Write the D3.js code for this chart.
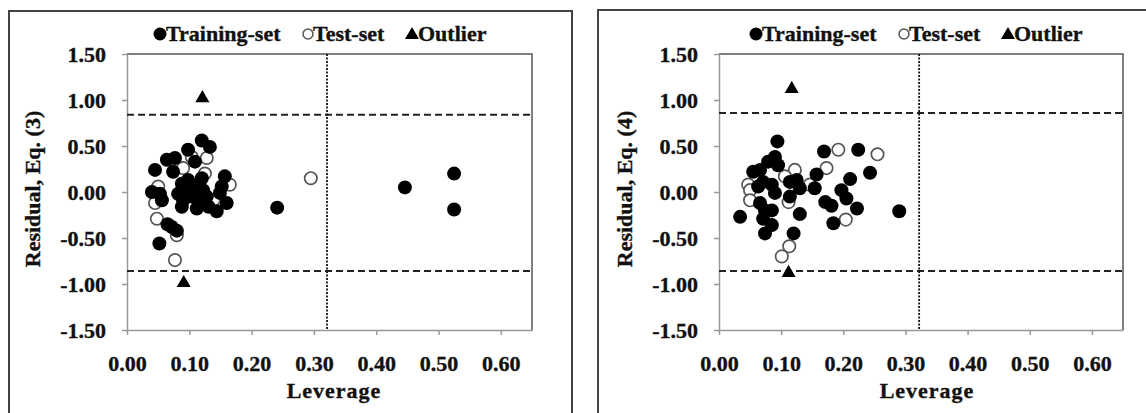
<!DOCTYPE html>
<html>
<head>
<meta charset="utf-8">
<script src="https://cdn.jsdelivr.net/npm/d3@7"></script>
<style>
body { margin: 0; background: #fff; }
svg text { font-family: "Liberation Serif", "Times New Roman", serif; font-weight: bold; fill: #111; stroke: #111; stroke-width: 0.35px; }
</style>
</head>
<body>
<div id="chart"></div>
<script>
// data: [leverage, residual]
const eq3Train = [
    [0.120, 0.56], [0.133, 0.49], [0.098, 0.46], [0.077, 0.37], [0.064, 0.35],
    [0.045, 0.24], [0.074, 0.22], [0.109, 0.33], [0.040, 0.00], [0.056, -0.09],
    [0.053, -0.02], [0.088, 0.09], [0.096, 0.02], [0.109, 0.06], [0.122, 0.02],
    [0.090, -0.09], [0.104, -0.05], [0.117, -0.09], [0.128, -0.05], [0.088, -0.16],
    [0.112, -0.18], [0.098, 0.13], [0.120, 0.15], [0.082, -0.02], [0.131, -0.16],
    [0.157, 0.17], [0.152, 0.06], [0.160, -0.12], [0.144, -0.21], [0.149, -0.01],
    [0.065, -0.35], [0.072, -0.38], [0.080, -0.42], [0.052, -0.56],
    [0.241, -0.17], [0.446, 0.05], [0.525, 0.20], [0.525, -0.19]
]
const eq3Test = [
    [0.050, 0.06], [0.048, -0.29], [0.080, -0.47], [0.077, -0.74], [0.128, 0.37],
    [0.125, 0.20], [0.165, 0.08], [0.104, 0.38], [0.045, -0.12], [0.139, -0.09],
    [0.090, 0.26], [0.295, 0.15]
]
const eq3Outlier = [[0.121, 1.02], [0.091, -0.99]]

const eq4Train = [
    [0.094, 0.55], [0.090, 0.38], [0.079, 0.33], [0.095, 0.29], [0.055, 0.22],
    [0.066, 0.24], [0.071, 0.11], [0.085, 0.08], [0.090, -0.01], [0.063, 0.06],
    [0.034, -0.27], [0.066, -0.12], [0.074, -0.20], [0.085, -0.20], [0.071, -0.29],
    [0.085, -0.36], [0.074, -0.45], [0.120, -0.45], [0.130, -0.24], [0.114, 0.11],
    [0.125, 0.13], [0.130, 0.04], [0.114, -0.05], [0.157, 0.19], [0.154, 0.04],
    [0.169, 0.44], [0.224, 0.46], [0.243, 0.21], [0.211, 0.14], [0.197, 0.02],
    [0.205, -0.07], [0.171, -0.11], [0.181, -0.15], [0.222, -0.18], [0.184, -0.34],
    [0.290, -0.21]
]
const eq4Test = [
    [0.192, 0.46], [0.255, 0.41], [0.173, 0.26], [0.122, 0.24], [0.106, 0.17],
    [0.047, 0.08], [0.050, 0.02], [0.050, -0.09], [0.112, -0.11], [0.146, 0.08],
    [0.204, -0.30], [0.113, -0.59], [0.101, -0.70]
]
const eq4Outlier = [[0.117, 1.12], [0.112, -0.88]]

// warning limits
const eq3Res = [0.84, -0.86]
const eq3Lev = 0.321
const eq4Res = [0.86, -0.86]
const eq4Lev = 0.322

const xTicks = [0, 0.1, 0.2, 0.3, 0.4, 0.5, 0.6]
const yTicks = [-1.5, -1, -0.5, 0, 0.5, 1, 1.5]
const legendNames = ['Training-set', 'Test-set', 'Outlier']

const serif = '"Liberation Serif", "Times New Roman", serif'
const width = 1146
const height = 413
const svg = d3.select('#chart')
    .append('svg')
    .attr('width', width)
    .attr('height', height)
    .attr('font-family', serif)

panel({
    frame: [9, 11, 563],
    left: 127, right: 532, titleX: 40, levX: 334, legX: 160,
    title: 'Residual, Eq. (3)',
    train: eq3Train, test: eq3Test, outlier: eq3Outlier, res: eq3Res, lev: eq3Lev
})
panel({
    frame: [598, 10, 600],
    left: 719, right: 1123, titleX: 632, levX: 927, legX: 756,
    title: 'Residual, Eq. (4)',
    train: eq4Train, test: eq4Test, outlier: eq4Outlier, res: eq4Res, lev: eq4Lev
})

function panel({ frame, left, right, titleX, levX, legX, title, train, test, outlier, res, lev }) {
    const top = 54
    const bottom = 330
    const g = svg.append('g')

    // outer frame
    g.append('rect')
        .attr('x', frame[0]).attr('y', frame[1])
        .attr('width', frame[2]).attr('height', 500)
        .attr('fill', 'none')
        .attr('stroke', '#444')
        .attr('stroke-width', 2)

    const x = d3.scaleLinear().domain([0, 0.65]).range([left, right])
    const y = d3.scaleLinear().domain([-1.5, 1.5]).range([bottom, top])

    // plot box top and right
    g.append('path')
        .attr('d', `M${left},${top}H${right}V${bottom}`)
        .attr('fill', 'none')
        .attr('stroke', '#555')
        .attr('stroke-width', 1.5)

    const fmt = d => d.toFixed(2)
    const yAxis = g.append('g')
        .attr('transform', `translate(${left},0)`)
        .call(d3.axisLeft(y).tickValues(yTicks).tickFormat(fmt).tickSize(5).tickSizeOuter(0).tickPadding(16))
    const xAxis = g.append('g')
        .attr('transform', `translate(0,${bottom})`)
        .call(d3.axisBottom(x).tickValues(xTicks).tickFormat(fmt).tickSize(5).tickSizeOuter(0).tickPadding(20))
    for (const ax of [xAxis, yAxis]) {
        ax.attr('font-family', serif).attr('font-size', 22)
        ax.selectAll('path, line').attr('stroke', '#999').attr('stroke-width', 1.5)
        ax.selectAll('text')
            .attr('font-weight', 'bold')
            .attr('fill', '#111')
    }

    // limits
    g.selectAll('.res')
        .data(res)
        .join('line')
        .attr('x1', left).attr('x2', right)
        .attr('y1', d => y(d)).attr('y2', d => y(d))
        .attr('stroke', '#222')
        .attr('stroke-width', 2)
        .attr('stroke-dasharray', '7,4')
    g.append('line')
        .attr('x1', x(lev)).attr('x2', x(lev))
        .attr('y1', top).attr('y2', bottom)
        .attr('stroke', '#111')
        .attr('stroke-width', 1.8)
        .attr('stroke-dasharray', '2,1.5')

    // points, test set under training set
    g.selectAll('.test')
        .data(test)
        .join('circle')
        .attr('cx', d => x(d[0])).attr('cy', d => y(d[1]))
        .attr('r', 6.2)
        .attr('fill', '#fff')
        .attr('stroke', '#555')
        .attr('stroke-width', 1.7)
    g.selectAll('.train')
        .data(train)
        .join('circle')
        .attr('cx', d => x(d[0])).attr('cy', d => y(d[1]))
        .attr('r', 7)
        .attr('fill', '#000')
    const tri = d3.symbol(d3.symbolTriangle, 85)
    g.selectAll('.outlier')
        .data(outlier)
        .join('path')
        .attr('d', tri)
        .attr('transform', d => `translate(${x(d[0])},${y(d[1])})`)
        .attr('fill', '#000')

    // axis titles
    g.append('text')
        .attr('transform', `translate(${titleX},${(top + bottom) / 2 - 3}) rotate(-90)`)
        .attr('text-anchor', 'middle')
        .attr('font-size', 22)
        .text(title)
    g.append('text')
        .attr('x', levX).attr('y', 398)
        .attr('text-anchor', 'middle')
        .attr('font-size', 22)
        .attr('letter-spacing', 1)
        .text('Leverage')

    // legend
    const lx = legX
    const ly = 34
    g.append('circle').attr('cx', lx).attr('cy', ly).attr('r', 6.5).attr('fill', '#000')
    g.append('circle').attr('cx', lx + 148).attr('cy', ly).attr('r', 5).attr('fill', '#fff')
        .attr('stroke', '#555').attr('stroke-width', 1.5)
    g.append('path').attr('d', tri).attr('transform', `translate(${lx + 252},${ly + 1})`).attr('fill', '#000')
    g.selectAll('.leg')
        .data(legendNames)
        .join('text')
        .attr('x', (d, i) => lx + [6, 153, 258][i])
        .attr('y', ly + 7)
        .attr('font-size', 22)
        .text(d => d)
}
</script>
</body>
</html>
